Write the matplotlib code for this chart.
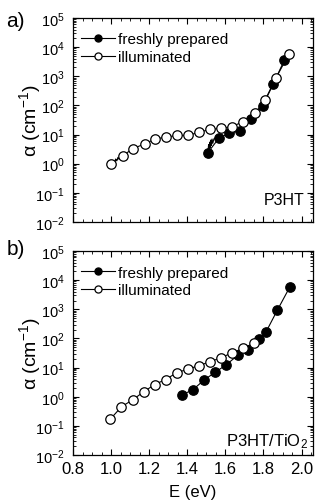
import matplotlib
matplotlib.use('Agg')
import matplotlib.pyplot as plt
from matplotlib.ticker import MultipleLocator, LogLocator, NullFormatter

plt.rcParams['font.family'] = ['Liberation Sans', 'DejaVu Sans']
plt.rcParams['mathtext.fontset'] = 'custom'
plt.rcParams['mathtext.rm'] = 'Liberation Sans'
plt.rcParams['mathtext.it'] = 'Liberation Sans:italic'

# P3HT film
a_fresh_E = [1.508, 1.566, 1.62, 1.677, 1.735, 1.795, 1.851, 1.909]
a_fresh_alpha = [2.4, 7.5, 11.2, 13.7, 34, 93, 537, 3500]
a_illum_E = [1.0, 1.061, 1.116, 1.176, 1.233, 1.29, 1.346, 1.404, 1.461,
             1.52, 1.578, 1.636, 1.691, 1.757, 1.809, 1.865, 1.935]
a_illum_alpha = [1.0, 1.9, 3.3, 4.8, 7.1, 8.2, 9.3, 9.3, 12,
                 15, 16.5, 18.6, 27.7, 54, 156, 860, 6000]
# noisy start of the measured curves
a_fresh_noise_E = [1.508, 1.512, 1.515, 1.518, 1.521, 1.524, 1.527, 1.530, 1.534, 1.54, 1.566]
a_fresh_noise_alpha = [2.4, 4.5, 3.0, 5.5, 3.6, 6.5, 4.2, 7.0, 5.0, 7.2, 7.5]
a_illum_noise_E = [1.0, 1.012, 1.018, 1.024, 1.030, 1.036, 1.042, 1.061]
a_illum_noise_alpha = [1.0, 1.25, 1.1, 1.45, 1.25, 1.65, 1.45, 1.9]

# P3HT/TiO2 film
b_fresh_E = [1.374, 1.43, 1.489, 1.547, 1.605, 1.664, 1.72, 1.779, 1.814, 1.872, 1.937]
b_fresh_alpha = [1.17, 1.74, 3.8, 6.9, 12.6, 26, 41, 93, 170, 910, 5600]
b_illum_E = [0.996, 1.054, 1.114, 1.172, 1.228, 1.286, 1.344, 1.404, 1.462,
             1.52, 1.576, 1.634, 1.694, 1.752]
b_illum_alpha = [0.17, 0.45, 0.79, 1.49, 2.6, 3.9, 6.6, 8.9, 11.7,
                 16, 21.5, 32, 46, 71]

fig = plt.figure(figsize=(3.24, 5.02), dpi=100)
ax_a = fig.add_axes([0.2253, 0.5558, 0.7407, 0.4064])
ax_b = fig.add_axes([0.2253, 0.0916, 0.7407, 0.4064])

ms = 6.8


def style_axis(ax, show_x):
    ax.set_yscale('log')
    ax.set_xlim(0.8, 2.06)
    ax.set_ylim(1e-2, 1e5)
    ax.xaxis.set_major_locator(MultipleLocator(0.2))
    ax.xaxis.set_minor_locator(MultipleLocator(0.05))
    ax.yaxis.set_major_locator(LogLocator(base=10, numticks=20))
    ax.yaxis.set_minor_locator(LogLocator(base=10, subs=range(2, 10), numticks=20))
    ax.yaxis.set_minor_formatter(NullFormatter())
    ax.tick_params(which='both', direction='in', top=True, right=True)
    ax.tick_params(axis='y', labelsize=10.5, pad=6)
    ax.tick_params(axis='x', labelsize=12, pad=4)
    ax.tick_params(which='major', length=4, width=0.8)
    ax.tick_params(which='minor', length=2, width=0.6)
    if show_x:
        ax.xaxis.set_major_formatter(plt.FormatStrFormatter('%.1f'))
    else:
        ax.tick_params(labelbottom=False)
    ax.set_ylabel('α (cm$^{-1}$)', fontsize=14)
    ax.yaxis.set_label_coords(-0.125, 0.5)
    for s in ax.spines.values():
        s.set_linewidth(0.9)


for ax, fE, fa, iE, ia in [(ax_a, a_fresh_E, a_fresh_alpha, a_illum_E, a_illum_alpha),
                           (ax_b, b_fresh_E, b_fresh_alpha, b_illum_E, b_illum_alpha)]:
    ax.plot(fE, fa, '-o', color='black', lw=0.8, ms=ms, mfc='black', mec='black',
            mew=0.9, label='freshly prepared', zorder=3)
    ax.plot(iE, ia, '-o', color='black', lw=0.8, ms=ms, mfc='white', mec='black',
            mew=0.9, label='illuminated', zorder=4)

ax_a.plot(a_fresh_noise_E, a_fresh_noise_alpha, color='black', lw=0.8, zorder=2)
ax_a.plot(a_illum_noise_E, a_illum_noise_alpha, color='black', lw=0.8, zorder=2)

style_axis(ax_a, False)
style_axis(ax_b, True)
ax_b.set_xlabel('E (eV)', fontsize=12, labelpad=6)

for ax in (ax_a, ax_b):
    ax.legend(loc='upper left', bbox_to_anchor=(0.0, 0.97), frameon=False,
              fontsize=11, handlelength=2.2, handletextpad=0.2,
              borderaxespad=0.25, borderpad=0.3, labelspacing=0.25,
              markerscale=0.75)

ax_a.text(0.965, 0.075, 'P3HT', transform=ax_a.transAxes, ha='right', va='bottom', fontsize=11.5)
ax_b.text(0.98, 0.025, 'P3HT/TiO$_2$', transform=ax_b.transAxes, ha='right', va='bottom', fontsize=12)

fig.text(0.02, 0.976, 'a)', fontsize=15, va='top')
fig.text(0.02, 0.522, 'b)', fontsize=15, va='top')

fig.savefig('out.png', dpi=100)
